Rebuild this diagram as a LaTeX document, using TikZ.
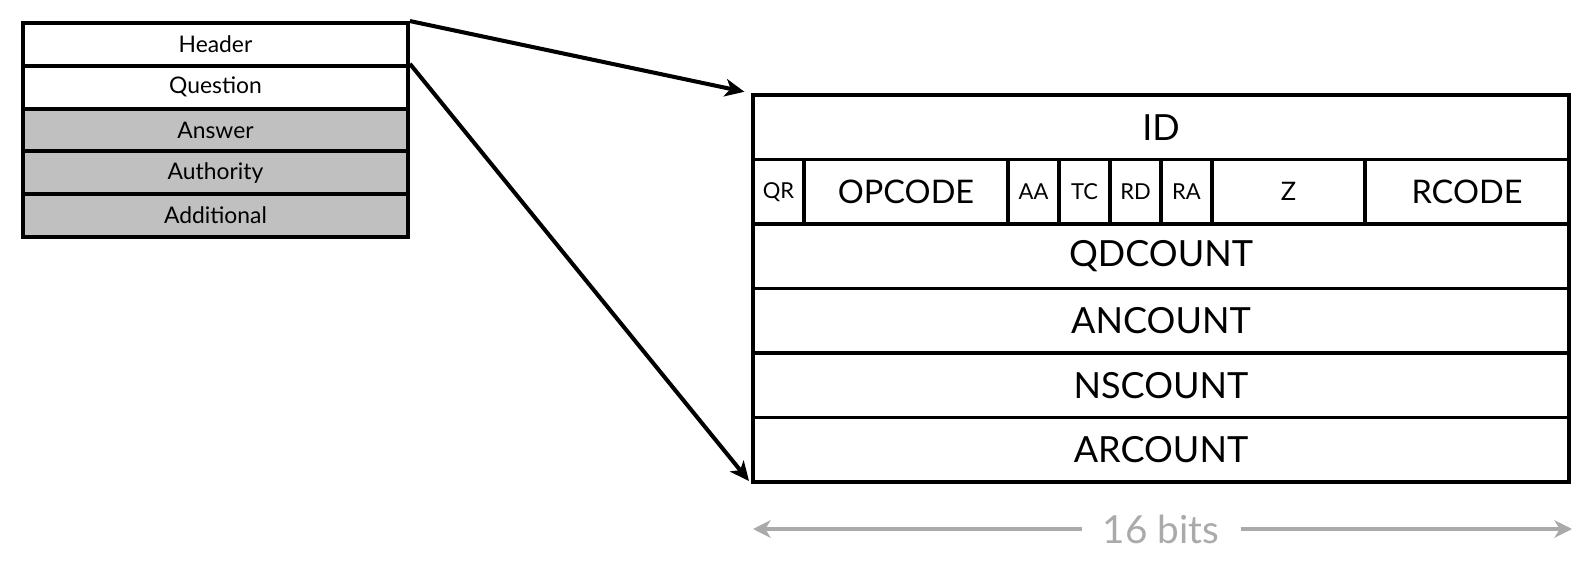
\documentclass[tikz,border=0pt]{standalone}
\usepackage{fontspec}
\setmainfont{Lato}
\usepackage{xcolor}
\usepackage{tikz}
\usetikzlibrary{arrows.meta, positioning}

\definecolor{sectgray}{RGB}{192,192,192}
\definecolor{bitgray}{RGB}{170,170,170}

\begin{document}
\begin{tikzpicture}[
    sect/.style={draw, line width=2.2pt, minimum width=7.7cm, minimum height=0.856cm, inner sep=0pt, font=\fontsize{13}{15}\selectfont},
    field/.style={draw, line width=2pt, minimum height=1.29cm, inner sep=0pt, font=\fontsize{20.5}{24}\selectfont},
    flag/.style={field, minimum width=1.02cm, font=\fontsize{12.5}{14}\selectfont},
    arrow/.style={-{Stealth[length=11pt, width=10pt, inset=3pt]}, line width=2.3pt},
    width arrow/.style={-{Stealth[length=10pt, width=10pt, inset=3pt]}, line width=2.4pt, bitgray}
]
    \useasboundingbox (0,0) rectangle (31.92,-11.26);
    % message sections
    \node[sect] at (4.31,-0.888) (header) {Header};
    \node[sect] at (4.31,-1.744) (question) {Question};
    \node[sect, fill=sectgray] at (4.31,-2.6) (answer) {Answer};
    \node[sect, fill=sectgray] at (4.31,-3.456) (authority) {Authority};
    \node[sect, fill=sectgray] at (4.31,-4.312) (additional) {Additional};
    % header layout
    \node[field, minimum width=16.32cm] at (23.22,-2.545) (id) {ID};
    \node[flag] at (15.57,-3.835) (qr) {QR};
    \node[field, minimum width=4.08cm, font=\fontsize{18.5}{20}\selectfont] at (18.12,-3.835) (opcode) {OPCODE};
    \node[flag] at (20.67,-3.835) (aa) {AA};
    \node[flag] at (21.69,-3.835) (tc) {TC};
    \node[flag] at (22.71,-3.835) (rd) {RD};
    \node[flag] at (23.73,-3.835) (ra) {RA};
    \node[field, minimum width=3.06cm, font=\fontsize{14.5}{16}\selectfont] at (25.77,-3.835) (z) {Z};
    \node[field, minimum width=4.08cm, font=\fontsize{18.5}{20}\selectfont] at (29.34,-3.835) (rcode) {RCODE};
    \node[field, minimum width=16.32cm] at (23.22,-5.125) (qdcount) {QDCOUNT};
    \node[field, minimum width=16.32cm] at (23.22,-6.415) (ancount) {ANCOUNT};
    \node[field, minimum width=16.32cm] at (23.22,-7.705) (nscount) {NSCOUNT};
    \node[field, minimum width=16.32cm] at (23.22,-8.995) (arcount) {ARCOUNT};
    \draw[arrow, shorten >=4pt] (header.north east) -- (id.north west);
    \draw[arrow, shorten >=2pt] (question.north east) -- (arcount.south west);
    % width
    \node[font=\fontsize{22}{24}\selectfont, text=bitgray, inner xsep=0.42cm] at (23.22,-10.58) (bits) {16 bits};
    \coordinate (bitsleft) at (15.06,-10.58);
    \coordinate (bitsright) at (31.44,-10.58);
    \draw[width arrow] (bits) -- (bitsleft);
    \draw[width arrow] (bits) -- (bitsright);
\end{tikzpicture}
\end{document}
